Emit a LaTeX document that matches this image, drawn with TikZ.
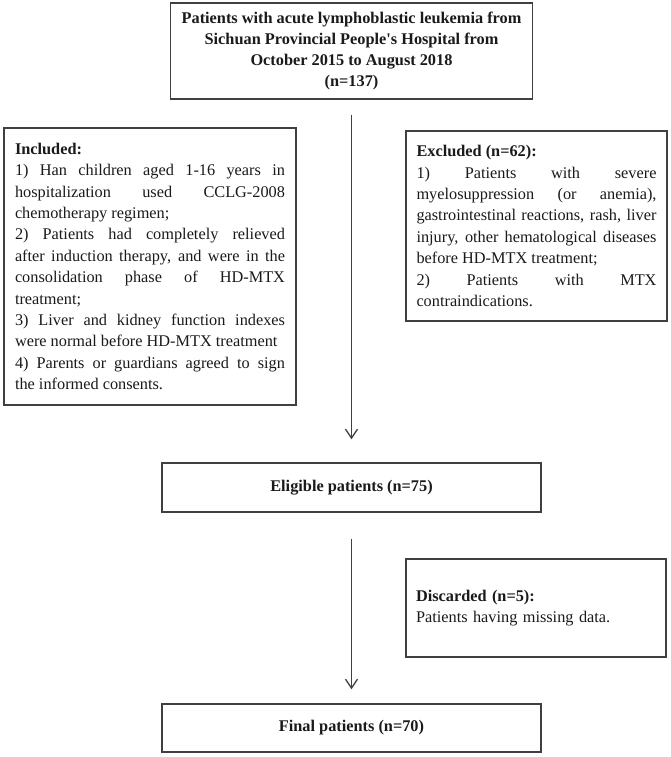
\documentclass[tikz,border=0pt]{standalone}
\usepackage{fontspec}
\setmainfont{Liberation Serif}[Ligatures=TeXOff]
\usetikzlibrary{arrows.meta}
\definecolor{linec}{HTML}{404040}
\definecolor{textc}{HTML}{1A1A1A}
\tikzset{
  box/.style={draw=linec, line width=1.4pt, text=textc, inner ysep=0pt,
    font={\fontsize{16.3}{21.4}\selectfont}},
  flow/.style={draw=linec, line width=1.3pt, -{Straight Barb[length=9pt,width=12pt]}},
  para/.style={text width=#1, align=justify},
}
\newcommand{\jpar}{\tolerance=10000\hyphenpenalty=10000\parindent=0pt\relax}
\begin{document}
\begin{tikzpicture}[x=1pt,y=-1pt]
\useasboundingbox (0,0) rectangle (671,757);
\fill[white] (0,0) rectangle (671,757);

\node[box, minimum width=362pt, minimum height=96pt, align=center,
  font={\fontsize{16.3}{21}\selectfont\bfseries}] (top) at (351.5,51)
  {Patients with acute lymphoblastic leukemia from\\
   Sichuan Provincial People's Hospital from\\
   October 2015 to August 2018\\
   (n=137)};

\node[box, para=270pt, inner xsep=11pt, minimum height=277pt] (incl) at (150,266.5)
  {\jpar\textbf{Included:}\par
   1) Han children aged 1-16 years in\break
   hospitalization used CCLG-2008\break
   chemotherapy regimen;\par
   2) Patients had completely relieved\break
   after induction therapy, and were in the\break
   consolidation phase of HD-MTX\break
   treatment;\par
   3) Liver and kidney function indexes\break
   were normal before HD-MTX treatment\par
   4) Parents or guardians agreed to sign\break
   the informed consents.};

\node[box, para=240pt, inner xsep=10.5pt, minimum height=190pt] (excl) at (536.5,226)
  {\jpar\textbf{Excluded (n=62):}\par
   1) Patients with severe\break
   myelosuppression (or anemia),\break
   gastrointestinal reactions, rash, liver\break
   injury, other hematological diseases\break
   before HD-MTX treatment;\par
   2) Patients with MTX\break
   contraindications.};

\node[box, minimum width=379pt, minimum height=49pt, font={\fontsize{16.3}{21}\selectfont\bfseries}]
  (elig) at (351.5,487.5) {Eligible patients (n=75)};

\node[box, text width=240pt, align=left, inner xsep=10pt, minimum height=98pt] (disc) at (536,608)
  {\textbf{Discarded (n=5):}\\ Patients having missing data.};

\node[box, minimum width=379pt, minimum height=48pt, font={\fontsize{16.3}{21}\selectfont\bfseries}]
  (final) at (351.5,728) {Final patients (n=70)};

\draw[flow, shorten <=15pt, shorten >=23pt] (top.south) -- (elig.north);
\draw[flow, shorten <=26pt, shorten >=14pt] (elig.south) -- (final.north);
\end{tikzpicture}
\end{document}
